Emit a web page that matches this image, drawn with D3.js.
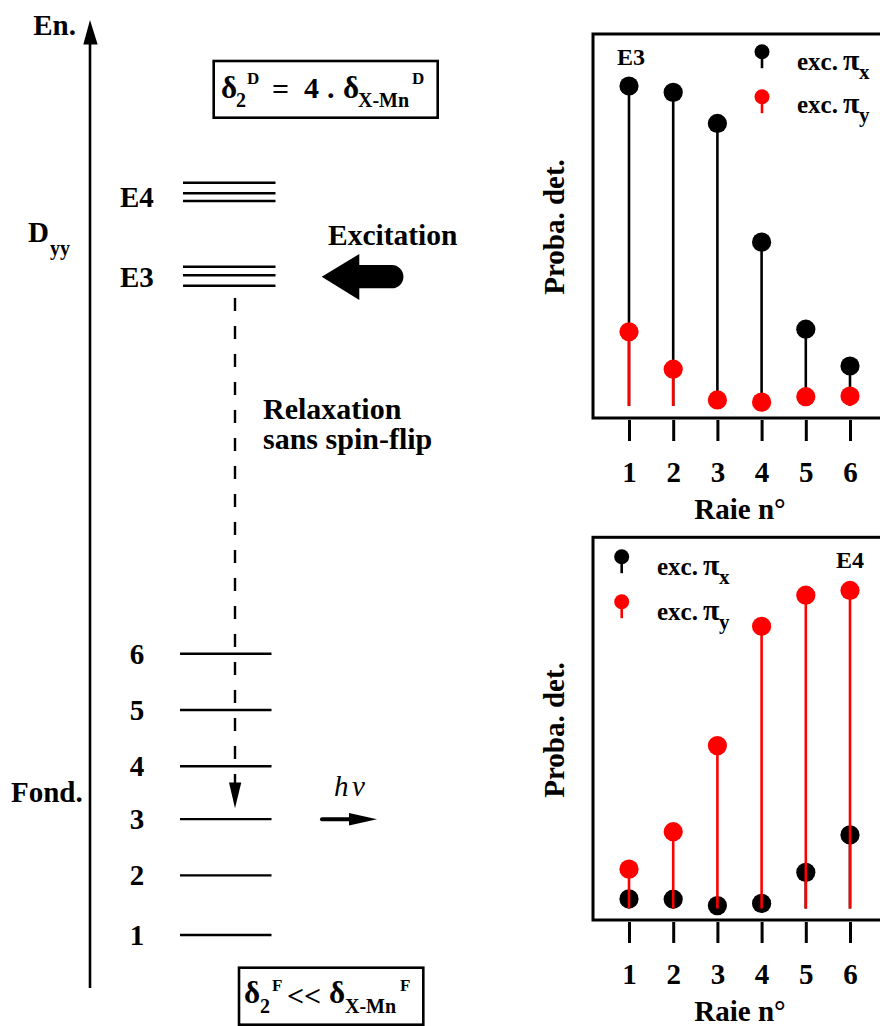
<!DOCTYPE html>
<html><head><meta charset="utf-8">
<script src="https://cdn.jsdelivr.net/npm/d3@7"></script>
<style>
html,body{margin:0;padding:0;background:#fff;}
svg{display:block;}
text{font-family:"Liberation Serif","Times New Roman",serif;fill:#000;}
</style></head>
<body>
<svg id="chart" width="880" height="1026"></svg>
<script>
// ---------- data ----------
const raies = [1, 2, 3, 4, 5, 6];
const e3PiX = [1.0, 0.98, 0.883, 0.512, 0.24, 0.125];
const e3PiY = [0.232, 0.115, 0.019, 0.012, 0.029, 0.031];
const e4PiX = [0.03, 0.029, 0.009, 0.016, 0.113, 0.23];
const e4PiY = [0.123, 0.24, 0.509, 0.882, 0.979, 0.994];
const groundLabels = ["1", "2", "3", "4", "5", "6"];
const groundEnergy = [0, 1.06, 2.06, 3.0, 4.0, 5.0];
const e4Energy = [13.372, 13.183, 13.047];
const e3Energy = [11.879, 11.726, 11.541];
const seriesSubs = ["x", "y"];
const colors = ["#000000", "#ff0000"];

const svg = d3.select("#chart");

function txt(x, y, s, size, opts = {}) {
  const t = svg.append("text").attr("x", x).attr("y", y).attr("font-size", size).text(s)
    .style("font-weight", opts.italic ? "normal" : "bold");
  if (opts.anchor) t.attr("text-anchor", opts.anchor);
  if (opts.italic) t.style("font-style", "italic");
  if (opts.transform) t.attr("transform", opts.transform);
  return t;
}
function rich(parts) {
  const t = svg.append("text").style("font-weight", "bold");
  parts.forEach(p => t.append("tspan").attr("x", p[0]).attr("y", p[1]).attr("font-size", p[3]).text(p[2]));
  return t;
}

// ---------- left energy diagram ----------
const eY = d3.scaleLinear().domain([0, 5]).range([935, 653.7]);

svg.append("line").attr("x1", 90).attr("x2", 90).attr("y1", 988).attr("y2", 40)
  .attr("stroke", "#000").attr("stroke-width", 2.6);
svg.append("path").attr("d", "M83.3,44.5 L90,20 L97.7,44.5 Z").attr("fill", "#000");
txt(76, 35, "En.", 29, {anchor: "end"});

rich([[28, 242, "D", 29], [50, 255, "yy", 20]]);
txt(11, 802, "Fond.", 29);

const lvlX1 = 183, lvlX2 = 275.5;
function levels(arr, w) {
  svg.append("g").selectAll("line").data(arr).join("line")
    .attr("x1", lvlX1).attr("x2", lvlX2)
    .attr("y1", d => eY(d)).attr("y2", d => eY(d))
    .attr("stroke", "#000").attr("stroke-width", w);
}
levels(e4Energy, 2.6);
levels(e3Energy, 2.6);
txt(120, 207, "E4", 29);
txt(120, 287, "E3", 29);

svg.append("g").selectAll("line").data(groundEnergy).join("line")
  .attr("x1", 180).attr("x2", 271.5)
  .attr("y1", d => eY(d)).attr("y2", d => eY(d))
  .attr("stroke", "#000").attr("stroke-width", 2.4);
svg.append("g").selectAll("text").data(groundLabels).join("text")
  .attr("x", 137).attr("y", (d, i) => eY(groundEnergy[i]) + 10)
  .attr("text-anchor", "middle").attr("font-size", 29).style("font-weight", "bold").text(d => d);

svg.append("line").attr("x1", 235).attr("x2", 235).attr("y1", 298).attr("y2", 783)
  .attr("stroke", "#000").attr("stroke-width", 2.4).attr("stroke-dasharray", "13,15");
svg.append("path").attr("d", "M229,782.5 L241.3,782.5 L235,808.3 Z").attr("fill", "#000");

rich([[263, 419, "Relaxation", 30], [263, 449, "sans spin-flip", 30]]);

txt(328, 245, "Excitation", 29.5);
svg.append("path")
  .attr("d", "M321.7,276.7 L359.3,254 L359.3,265 L391.8,265 A11.6,11.6 0 0 1 391.8,288.3 L359.3,288.3 L359.3,300 Z")
  .attr("fill", "#000");

const hv = svg.append("text").style("font-style", "italic").style("font-weight", "normal").attr("font-size", 29);
hv.append("tspan").attr("x", 334).attr("y", 796).text("h");
hv.append("tspan").attr("x", 352).attr("y", 796).text("\u03bd");
svg.append("line").attr("x1", 322).attr("x2", 352).attr("y1", 819.3).attr("y2", 819.3)
  .attr("stroke", "#000").attr("stroke-width", 4).attr("stroke-linecap", "round");
svg.append("path").attr("d", "M349,813 L377,819.3 L349,825.6 Z").attr("fill", "#000");

// top formula box
svg.append("rect").attr("x", 213.7).attr("y", 61).attr("width", 224).attr("height", 56.7)
  .attr("fill", "none").attr("stroke", "#000").attr("stroke-width", 2.6);
rich([[221, 98, "\u03b4", 31], [236, 107, "2", 20], [247, 84, "D", 17], [272, 99, "=", 30],
      [304, 98, "4", 30], [327, 98, ".", 30], [343, 98, "\u03b4", 31], [358, 107, "X-Mn", 20], [412, 84, "D", 17]]);

// bottom formula box
svg.append("rect").attr("x", 239).attr("y", 967.7).attr("width", 184.3).attr("height", 57)
  .attr("fill", "none").attr("stroke", "#000").attr("stroke-width", 2.6);
rich([[244, 1003, "\u03b4", 31], [260, 1013, "2", 20], [272, 991, "F", 17], [287, 1006, "<<", 30],
      [329, 1003, "\u03b4", 31], [345, 1013, "X-Mn", 20], [400, 991, "F", 17]]);

// ---------- stem charts ----------
const x = d3.scaleLinear().domain([1, 6]).range([629, 850]);

function stemChart(cfg) {
  const y = d3.scaleLinear().domain([0, 1]).range([cfg.base, cfg.base - 320]);
  const g = svg.append("g");
  g.append("rect").attr("x", 593).attr("y", cfg.top).attr("width", 400).attr("height", cfg.bottom - cfg.top)
    .attr("fill", "none").attr("stroke", "#000").attr("stroke-width", 3);
  [cfg.px, cfg.py].forEach((vals, si) => {
    const s = g.append("g");
    s.selectAll("line").data(vals).join("line")
      .attr("x1", (d, i) => x(raies[i])).attr("x2", (d, i) => x(raies[i]))
      .attr("y1", y(0)).attr("y2", d => y(d))
      .attr("stroke", colors[si]).attr("stroke-width", 2.6);
    s.selectAll("circle").data(vals).join("circle")
      .attr("cx", (d, i) => x(raies[i])).attr("cy", d => y(d)).attr("r", 9.6)
      .attr("fill", colors[si]);
  });
  const ax = g.append("g").attr("transform", `translate(0,${cfg.bottom + 2})`)
    .call(d3.axisBottom(x).tickValues(raies).tickSize(21).tickPadding(20).tickFormat(d3.format("d")));
  ax.select(".domain").remove();
  ax.selectAll(".tick line").attr("stroke", "#000").attr("stroke-width", 3);
  ax.selectAll(".tick text").attr("font-size", 29).attr("font-family", "Liberation Serif, serif")
    .style("font-weight", "bold").attr("fill", "#000");
  txt(740, cfg.bottom + 101, "Raie n\u00b0", 29, {anchor: "middle"});
  txt(0, 0, "Proba. det.", 29, {anchor: "middle", transform: `translate(564,${cfg.labelY}) rotate(-90)`});
  txt(cfg.tagX, cfg.tagY, cfg.tag, 24, {anchor: "middle"});
  cfg.leg.forEach((L, si) => {
    g.append("line").attr("x1", cfg.legX).attr("x2", cfg.legX)
      .attr("y1", L.y).attr("y2", L.y + 16.5).attr("stroke", colors[si]).attr("stroke-width", 2.6);
    g.append("circle").attr("cx", cfg.legX).attr("cy", L.y).attr("r", 7.5).attr("fill", colors[si]);
    rich([[cfg.legTX, L.ty, "exc.", 25], [cfg.legTX + 46, L.ty, "\u03c0", 30], [cfg.legTX + 62, L.ty + 9, seriesSubs[si], 21]]);
  });
}

stemChart({
  top: 34, bottom: 418, base: 406, px: e3PiX, py: e3PiY, labelY: 227,
  tag: "E3", tagX: 631, tagY: 65,
  legX: 762, legTX: 797, leg: [{y: 51.7, ty: 70}, {y: 96.7, ty: 113}]
});
stemChart({
  top: 537.3, bottom: 920, base: 908.5, px: e4PiX, py: e4PiY, labelY: 730,
  tag: "E4", tagX: 850, tagY: 568,
  legX: 621.7, legTX: 657, leg: [{y: 556.7, ty: 575}, {y: 601.7, ty: 619.5}]
});
</script>
</body></html>
